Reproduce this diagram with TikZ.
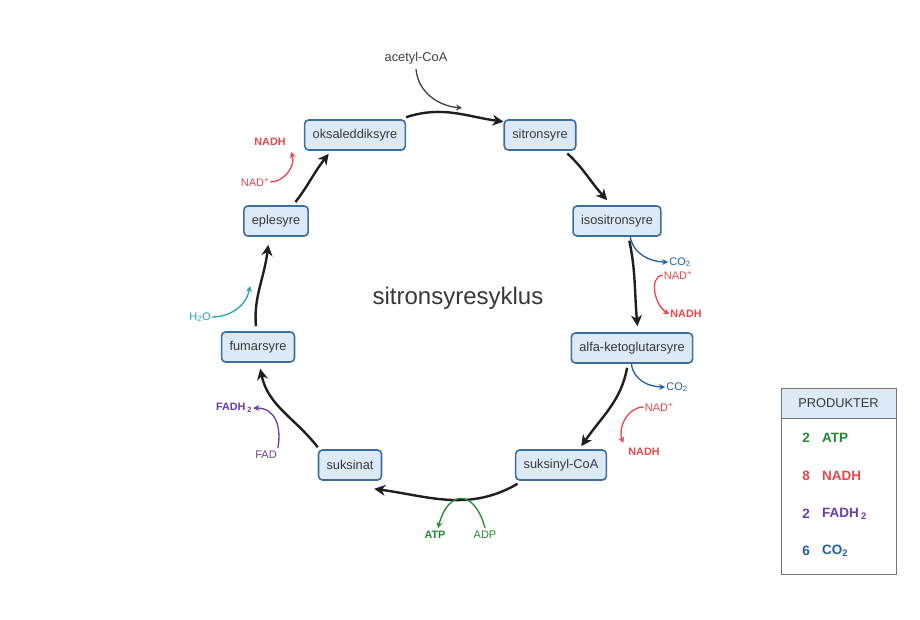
\documentclass[tikz,border=0pt]{standalone}
\usepackage{fontspec}
\setmainfont{Liberation Sans}
\usetikzlibrary{arrows.meta,calc}
\definecolor{boxfill}{HTML}{DCE9F7}
\definecolor{boxline}{HTML}{3D6C9E}
\definecolor{atpgreen}{HTML}{1F8A2F}
\definecolor{nadred}{HTML}{E8474C}
\definecolor{fadpurple}{HTML}{6B3BAA}
\definecolor{coblue}{HTML}{1F5FA6}
\definecolor{watercyan}{HTML}{2A9FBE}
\begin{document}
\begin{tikzpicture}[x=1pt, y=-1pt, >=stealth,
  stoff/.style={draw=boxline, fill=boxfill, line width=1.6pt, rounded corners=4pt, minimum height=30pt, inner xsep=8pt, text=black!78, font=\fontsize{12.8}{15}\selectfont},
  syklus/.style={-{Stealth[length=11pt, width=11pt]}, line width=2.4pt, black!88},
  bi/.style={-{Stealth[length=6pt, width=6pt]}, line width=1.3pt},
  lbl/.style={inner sep=1pt, font=\fontsize{11}{13}\selectfont},
  blbl/.style={inner sep=1pt, font=\fontsize{10.8}{13}\selectfont\bfseries},
  prod/.style={inner sep=1pt, font=\fontsize{13.5}{16}\selectfont\bfseries}]

        \useasboundingbox (0,0) rectangle (920,620);

        % STOFFER I SYKLUSEN
        \node[stoff] (oksal) at (355,135) {oksaleddiksyre};
        \node[stoff] (sitron) at (540,135) {sitronsyre};
        \node[stoff] (iso) at (617,221) {isositronsyre};
        \node[stoff] (alfa) at (632,348) {alfa-ketoglutarsyre};
        \node[stoff] (suksinyl) at (561,465) {suksinyl-CoA};
        \node[stoff] (suksinat) at (350,465) {suksinat};
        \node[stoff] (fumar) at (258,347) {fumarsyre};
        \node[stoff] (eple) at (276,221) {eplesyre};

        \node[text=black!78, font=\fontsize{24}{28}\selectfont] (tittel) at (458,298) {sitronsyresyklus};

        % Sorte piler
        \draw[syklus] ([yshift=2pt]oksal.north east) to[out=18, in=172] (sitron.160);
        \draw[syklus, shorten <=4pt] (sitron.-33) to[out=-42, in=132] ([yshift=5pt]iso.122);
        \draw[syklus, shorten <=4pt] (iso.-54) to[out=-78, in=95] ([yshift=6pt]alfa.71);
        \draw[syklus, shorten <=4pt] (alfa.-105) to[out=-100, in=55] ([yshift=3pt]suksinyl.38);
        \draw[syklus] ([yshift=-3pt]suksinyl.-160) to[out=-150, in=-8] ($(suksinat.south east)+(-8,8)$);
        \draw[syklus] ([yshift=2pt]suksinat.north west) to[out=128, in=-78] ([yshift=-6pt]fumar.-82);
        \draw[syklus, shorten <=5pt] (fumar.96) to[out=95, in=-97] ([yshift=-8pt]eple.-116);
        \draw[syklus, shorten <=4pt] (eple.43) to[out=52, in=-128] ([yshift=-3pt]oksal.-149);

        % ACETYL-COA
        \node[inner sep=1pt, text=black!75, font=\fontsize{12.8}{15}\selectfont] (acetyl) at (416,58) {acetyl-CoA};
        \coordinate (acetylinn) at (462,108);
        \draw[bi, black!75] ([yshift=-4pt]acetyl.south) to[out=-85, in=175] (acetylinn);

        % ISOSITRONSYRE -> ALFA-KETOGLUTARSYRE
        \node[lbl, text=coblue] (co1) at (680,262) {CO\textsubscript{2}};
        \node[lbl, text=nadred] (nad1) at (678,275) {NAD\textsuperscript{+}};
        \node[blbl, text=nadred] (nadh1) at (686,314) {NADH};
        \draw[bi, coblue] (iso.-50) to[out=-80, in=180] (co1.west);
        \draw[bi, nadred] (nad1.west) to[out=190, in=150] (nadh1.west);

        % ALFA-KETOGLUTARSYRE -> SUKSINYL-COA
        \node[lbl, text=coblue] (co2) at (677,387) {CO\textsubscript{2}};
        \node[lbl, text=nadred] (nad2) at (659,407) {NAD\textsuperscript{+}};
        \node[blbl, text=nadred] (nadh2) at (644,452) {NADH};
        \draw[bi, coblue] (alfa.-92) to[out=-85, in=180] (co2.west);
        \draw[bi, nadred] (nad2.west) to[out=180, in=110] ([xshift=-4pt,yshift=4pt]nadh2.north west);

        % SUKSINYL-COA -> SUKSINAT
        \node[blbl, text=atpgreen] (atp) at (435,535) {ATP};
        \node[lbl, text=atpgreen] (adp) at (485,535) {ADP};
        \draw[bi, atpgreen] ([yshift=2pt]adp.north) to[out=105, in=75, looseness=2.2] ([xshift=3pt,yshift=2pt]atp.north);

        % SUKSINAT -> FUMARSYRE
        \node[lbl, text=fadpurple] (fad) at (266,455) {FAD};
        \node[blbl, text=fadpurple] (fadh) at (234,408) {FADH\,\textsubscript{2}};
        \draw[bi, fadpurple] ([yshift=2pt]fad.north east) to[out=80, in=0, looseness=1.2] (fadh.east);

        % FUMARSYRE -> EPLESYRE
        \node[lbl, text=watercyan] (vann) at (200,317) {H\textsubscript{2}O};
        \coordinate (vanninn) at (250,286);
        \draw[bi, watercyan] (vann.east) to[out=0, in=-100] (vanninn);

        % EPLESYRE -> OKSALEDDIKSYRE
        \node[lbl, text=nadred] (nad4) at (255,182) {NAD\textsuperscript{+}};
        \node[blbl, text=nadred] (nadh4) at (270,142) {NADH};
        \coordinate (nadh4inn) at (291,152);
        \draw[bi, nadred] (nad4.east) to[out=0, in=-70] (nadh4inn);

        % PRODUKTER
        \draw[black!55, line width=0.8pt] (781,388) rectangle (896,574);
        \node[draw=black!55, line width=0.8pt, fill=boxfill, minimum width=115pt, minimum height=30pt, text=black!78, font=\fontsize{12.8}{15}\selectfont] (produkter) at (838.5,403) {PRODUKTER};
        \node[prod, text=atpgreen] (n1) at (806,438) {2};
        \node[prod, text=atpgreen, anchor=west] (p1) at (821,438) {ATP};
        \node[prod, text=nadred] (n2) at (806,476) {8};
        \node[prod, text=nadred, anchor=west] (p2) at (821,476) {NADH};
        \node[prod, text=fadpurple] (n3) at (806,514) {2};
        \node[prod, text=fadpurple, anchor=west] (p3) at (821,514) {FADH\,\textsubscript{2}};
        \node[prod, text=coblue] (n4) at (806,551) {6};
        \node[prod, text=coblue, anchor=west] (p4) at (821,551) {CO\textsubscript{2}};
    \end{tikzpicture}
\end{document}
